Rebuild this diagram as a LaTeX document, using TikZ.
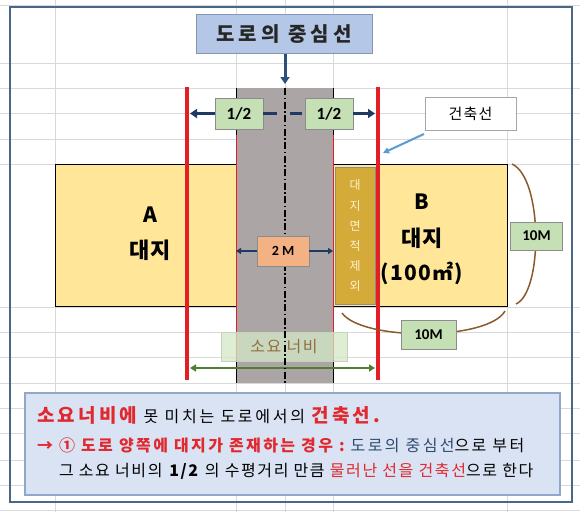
\documentclass[tikz,border=0pt]{standalone}
\usepackage{fontspec}
\setmainfont{Noto Sans CJK KR}
\newfontfamily\numfont{Carlito}
\usetikzlibrary{arrows.meta}
\definecolor{gridc}{HTML}{D9D9D9}
\definecolor{framec}{HTML}{4A6785}
\definecolor{titlefill}{HTML}{B4C7E7}
\definecolor{titledraw}{HTML}{8497B0}
\definecolor{navy}{HTML}{1F3864}
\definecolor{arrowblue}{HTML}{2E4E7E}
\definecolor{lightblue}{HTML}{5B9BD5}
\definecolor{roadgray}{HTML}{ABA5A5}
\definecolor{lotfill}{HTML}{FFE699}
\definecolor{stripfill}{HTML}{D4AA38}
\definecolor{striptext}{HTML}{FFF2CC}
\definecolor{redline}{HTML}{E31E24}
\definecolor{greenfill}{HTML}{C5E0B4}
\definecolor{boxgray}{HTML}{8C8C8C}
\definecolor{salmon}{HTML}{F4B183}
\definecolor{brace}{HTML}{8B5A2B}
\definecolor{sogreen}{HTML}{D5E8C8}
\definecolor{sotext}{HTML}{8F6F3F}
\definecolor{darkgreen}{HTML}{507E32}
\definecolor{notefill}{HTML}{DAE3F3}
\definecolor{notedraw}{HTML}{8FA7C8}
\definecolor{tred}{HTML}{E0282E}
\definecolor{tblue}{HTML}{2F4A70}
\tikzset{
  gridline/.style={draw=gridc, line width=0.8pt},
  plain/.style={inner sep=0pt, outer sep=0pt},
  labelbox/.style={draw=boxgray, line width=0.8pt, inner sep=0pt, outer sep=0pt, align=center},
  lotbox/.style={fill=lotfill, draw=black, line width=1pt, inner sep=0pt, outer sep=0pt, anchor=north west},
  redbar/.style={draw=redline, line width=3.5pt},
  navyarrow/.style={draw=navy, line width=3pt, -{Triangle[length=7pt,width=9pt]}},
  navydash/.style={draw=navy, line width=3pt},
  thinarrow/.style={draw=navy, line width=1.8pt, -{Triangle[length=5pt,width=6pt]}},
  bracecurve/.style={draw=brace, line width=1.5pt},
}
\newcommand\ksize[3]{\fontsize{#1}{#1}\selectfont\addfontfeatures{LetterSpace=#2}#3}
\begin{document}
\begin{tikzpicture}[x=1pt,y=-1pt]
\useasboundingbox (0,0) rectangle (580,512);
\fill[white] (0,0) rectangle (580,512);
% spreadsheet grid
\foreach \yy in {5,63,88,113,139,164,307,332,357,383,408,433,460,485,510}
  \draw[gridline] (0,\yy) -- (580,\yy);
\foreach \xx in {55,236,285,333,507}
  \draw[gridline] (\xx,0) -- (\xx,512);
% outer frame
\draw[framec, line width=2pt] (10,6.5) rectangle (571.5,502);
% lots
\node[lotbox, minimum width=180.5, minimum height=142] (lotA) at (55.5,164) {};
\node[lotbox, minimum width=174.5, minimum height=142] (lotB) at (333,164) {};
% road
\node[plain, fill=roadgray, anchor=north west, minimum width=97, minimum height=295] (road) at (236,88) {};
\draw[black, line width=1pt] (road.north west) -- (road.south west);
\draw[black, line width=1pt] (road.north east) -- (road.south east);
\draw[redline, line width=0.8pt] (236,135) -- (236,360);
\draw[redline, line width=0.8pt] (333,135) -- (333,360);
% strip
\node[plain, fill=stripfill, draw=boxgray, line width=0.8pt, minimum width=40.5, minimum height=137] (strip) at (355.2,235.5) {};
\node[plain, align=center, text=striptext, font=\fontsize{12}{20.2}\selectfont] (striplabel) at (355.2,236) {대\\지\\면\\적\\제\\외};
% lot texts
\node[plain, font=\bfseries\fontsize{21}{21}\selectfont] (Aname) at (150,215) {A};
\node[plain, font=\bfseries\fontsize{22}{22}\selectfont] (Alabel) at (150,250) {대지};
\node[plain, font=\bfseries\fontsize{21}{21}\selectfont] (Bname) at (422,202) {B};
\node[plain, font=\bfseries\fontsize{22}{22}\selectfont] (Blabel) at (422,238) {대지};
\node[plain, font={\ksize{21}{6}{}\bfseries}] (Barea) at (422,273) {(100㎡)};
% required width box (centre line shows through)
\node[plain, draw=sogreen!80!gray, line width=0.8pt, fill=sogreen, fill opacity=0.75, text opacity=1, minimum width=126, minimum height=29, text=sotext, font={\ksize{16}{10}{}}] (sobox) at (284,346.5) {소요 너비};
\coordinate (gL) at (190,368);
\coordinate (gR) at (375,368);
\draw[darkgreen, line width=2.5pt, {Triangle[length=6pt,width=7pt]}-{Triangle[length=6pt,width=7pt]}] (gL) -- (gR);
% centre line
\coordinate (cT) at (285,88);
\coordinate (cB) at (285,383);
\draw[black, line width=1.2pt, dash pattern=on 7pt off 2.5pt on 1.5pt off 2.5pt] (cT) -- (cB);
% 2 M
\node[labelbox, fill=salmon, minimum width=52, minimum height=30, font=\numfont\bfseries\fontsize{14}{14}\selectfont] (twoM) at (283,251) {2 M};
\draw[thinarrow] (twoM.west) -- (road.west |- twoM.west);
\draw[thinarrow] (twoM.east) -- (road.east |- twoM.east);
% red building lines
\coordinate (rlT) at (187,87);
\coordinate (rlB) at (187,380);
\coordinate (rrT) at (378,87);
\coordinate (rrB) at (378,380);
\draw[redbar] (rlT) -- (rlB);
\draw[redbar] (rrT) -- (rrB);
% sizes
\draw[bracecurve] (512,164) .. controls (543,178) and (543,292) .. (516,304);
\node[labelbox, fill=greenfill, minimum width=52, minimum height=28, font=\numfont\bfseries\fontsize{15}{15}\selectfont] (tenR) at (536.5,236) {10M};
\draw[bracecurve] (342,313) .. controls (362,341) and (488,341) .. (505,311);
\node[labelbox, fill=greenfill, minimum width=55, minimum height=29, font=\numfont\bfseries\fontsize{15}{15}\selectfont] (tenB) at (428.5,334.5) {10M};
% title
\node[labelbox, draw=titledraw, fill=titlefill, minimum width=176, minimum height=39, font={\ksize{20}{20}{}\bfseries}, text=black!85] (title) at (284,34) {도로의 중심선};
\coordinate (titletip) at (285,84);
\draw[draw=arrowblue, line width=3pt, -{Triangle[length=7pt,width=9pt]}] (title.south -| titletip) -- (titletip);
% halves
\node[labelbox, fill=greenfill, minimum width=48, minimum height=31, font=\numfont\bfseries\fontsize{17}{17}\selectfont] (halfL) at (239,113.5) {1/2};
\node[labelbox, fill=greenfill, minimum width=48, minimum height=31, font=\numfont\bfseries\fontsize{17}{17}\selectfont] (halfR) at (329,113.5) {1/2};
\draw[navyarrow] (halfL.west) -- ([xshift=3pt]rlT |- halfL.west);
\draw[navyarrow] (halfR.east) -- ([xshift=-3pt]rrT |- halfR.east);
\draw[navydash] (halfL.east) -- ++(14,0);
\draw[navydash] ([xshift=-15pt]halfR.west) -- ++(12,0);
% building line label
\node[labelbox, draw=gray!70, fill=white, minimum width=91, minimum height=33, font={\ksize{15}{8}{}}] (jb) at (470.5,113.5) {건축선};
\coordinate (jbtip) at (383,153);
\draw[draw=lightblue, line width=2pt, -{Triangle[length=6pt,width=6pt]}] ([xshift=-1pt,yshift=-4pt]jb.south west) -- (jbtip);
% note
\node[plain, draw=notedraw, line width=1.5pt, fill=notefill, anchor=north west, minimum width=535, minimum height=102] (note) at (25,393) {};
\node[plain, anchor=base west] (l1) at (37,422) {\textcolor{tred}{\ksize{19}{17}{\bfseries 소요너비에}}\ksize{16}{17}{\ 못 미치는 도로에서의 }\textcolor{tred}{\ksize{19}{17}{\bfseries 건축선.}}};
\node[plain, anchor=base west, font={\ksize{16}{15}{}}] (l2) at (37,451) {\textcolor{tred}{\bfseries →\ ①\ 도로 양쪽에 대지가 존재하는 경우 :}\ \textcolor{tblue}{도로의 중심선}으로 부터};
\node[plain, anchor=base west, font={\ksize{16}{10}{}}] (l3) at (59,476) {그 소요 너비의 \textbf{1/2} 의 수평거리 만큼 \textcolor{tred}{물러난 선을 건축선}으로 한다};
\end{tikzpicture}
\end{document}
